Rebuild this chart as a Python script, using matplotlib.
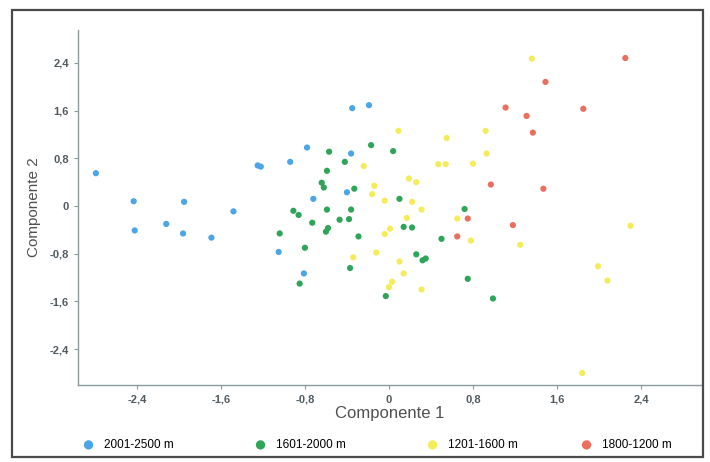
import matplotlib
matplotlib.use("Agg")
import matplotlib.pyplot as plt
from matplotlib.patches import Rectangle

plt.rcParams['font.family'] = ['Liberation Sans', 'DejaVu Sans']

# Data (Componente 1, Componente 2) per altitude group
blue_x = [-2.79, -2.43, -2.42, -1.95, -2.12, -1.96, -1.69, -1.48, -1.25, -1.22,
          -0.94, -0.78, -0.35, -0.19, -0.36, -0.40, -0.72, -1.05, -0.81]
blue_y = [0.55, 0.08, -0.41, 0.07, -0.30, -0.46, -0.53, -0.09, 0.68, 0.66,
          0.74, 0.98, 1.64, 1.69, 0.88, 0.23, 0.12, -0.77, -1.13]

green_x = [-0.57, -0.17, -0.42, -0.59, -0.64, -0.62, -0.33, -0.91, -0.86, -0.59,
           -0.36, -0.73, -0.47, -0.38, -0.58, -0.60, -1.04, -0.80, -0.29, -0.37,
           -0.85, -0.03, 0.04, 0.10, 0.72, 0.14, 0.22, 0.50, 0.26, 0.32,
           0.35, 0.75, 0.99]
green_y = [0.91, 1.02, 0.74, 0.59, 0.39, 0.31, 0.29, -0.08, -0.15, -0.06,
           -0.06, -0.28, -0.23, -0.22, -0.37, -0.43, -0.46, -0.70, -0.51, -1.04,
           -1.30, -1.51, 0.92, 0.12, -0.05, -0.35, -0.36, -0.55, -0.81, -0.91,
           -0.88, -1.22, -1.55]

yellow_x = [-0.24, -0.14, -0.16, -0.04, -0.04, 0.01, -0.34, -0.12, 1.36, 0.09,
            0.55, 0.92, 0.93, 0.47, 0.54, 0.80, 0.19, 0.26, 0.22, 0.31,
            0.17, 0.65, 2.30, 0.78, 1.25, 0.10, 0.14, 0.03, 0.00, 0.31,
            1.99, 2.08, 1.84]
yellow_y = [0.67, 0.34, 0.20, 0.09, -0.47, -0.38, -0.86, -0.78, 2.47, 1.26,
            1.14, 1.26, 0.88, 0.70, 0.70, 0.71, 0.46, 0.40, 0.07, -0.06,
            -0.20, -0.21, -0.33, -0.58, -0.65, -0.93, -1.13, -1.27, -1.36, -1.40,
            -1.01, -1.25, -2.80]

red_x = [2.25, 1.49, 1.11, 1.31, 1.85, 1.37, 0.97, 1.47, 0.75, 1.18, 0.65]
red_y = [2.48, 2.08, 1.65, 1.51, 1.63, 1.23, 0.36, 0.29, -0.21, -0.32, -0.51]

labels = ['2001-2500 m', '1601-2000 m', '1201-1600 m', '1800-1200 m']
colors = ['#4aa6e6', '#2fa55a', '#f4ec5a', '#ec6f5e']
ticks = [-2.4, -1.6, -0.8, 0, 0.8, 1.6, 2.4]
tick_labels = ['-2,4', '-1,6', '-0,8', '0', '0,8', '1,6', '2,4']

fig = plt.figure(figsize=(7.1, 4.62), dpi=100)
ax = fig.add_axes([78 / 710, 1 - 385 / 462, 624 / 710, 355 / 462])

series = [(blue_x, blue_y), (green_x, green_y), (yellow_x, yellow_y), (red_x, red_y)]
handles = []
for (xs, ys), c, lab in zip(series, colors, labels):
    h = ax.scatter(xs, ys, s=20, color=c, edgecolors='none', label=lab, zorder=3)
    handles.append(h)

ax.set_xlim(-2.96, 2.98)
ax.set_ylim(-3.0, 2.95)
ax.set_xticks(ticks)
ax.set_xticklabels(tick_labels)
ax.set_yticks(ticks)
ax.set_yticklabels(tick_labels)

for s in ['top', 'right']:
    ax.spines[s].set_visible(False)
for s in ['left', 'bottom']:
    ax.spines[s].set_color('#8c9a9a')
    ax.spines[s].set_linewidth(1.0)
ax.tick_params(axis='both', colors='#8c9a9a', length=3, width=0.8,
               labelsize=8, labelcolor='#505a60')
ax.tick_params(axis='x', pad=4)
for t in ax.get_xticklabels() + ax.get_yticklabels():
    t.set_fontweight('bold')

ax.set_xlabel('Componente 1', fontsize=12, color='#505050', labelpad=1)
ax.set_ylabel('Componente 2', fontsize=11, color='#505050', labelpad=6)

# legend entries placed along the bottom
legend_x = [72, 244, 416, 570]
for h, lab, lx in zip(handles, labels, legend_x):
    fig.legend([h], [lab], loc='center left', bbox_to_anchor=(lx / 710, 1 - 445 / 462),
               frameon=False, fontsize=8.5, markerscale=1.5, handletextpad=0.3,
               borderaxespad=0)

# scanned page frame
fig.patches.append(Rectangle((12 / 710, 5 / 462), 0.99 - 12 / 710, 0.978 - 5 / 462,
                             transform=fig.transFigure, fill=False,
                             edgecolor='#4a4a4a', linewidth=1.6))

fig.savefig('out.png', dpi=100)
